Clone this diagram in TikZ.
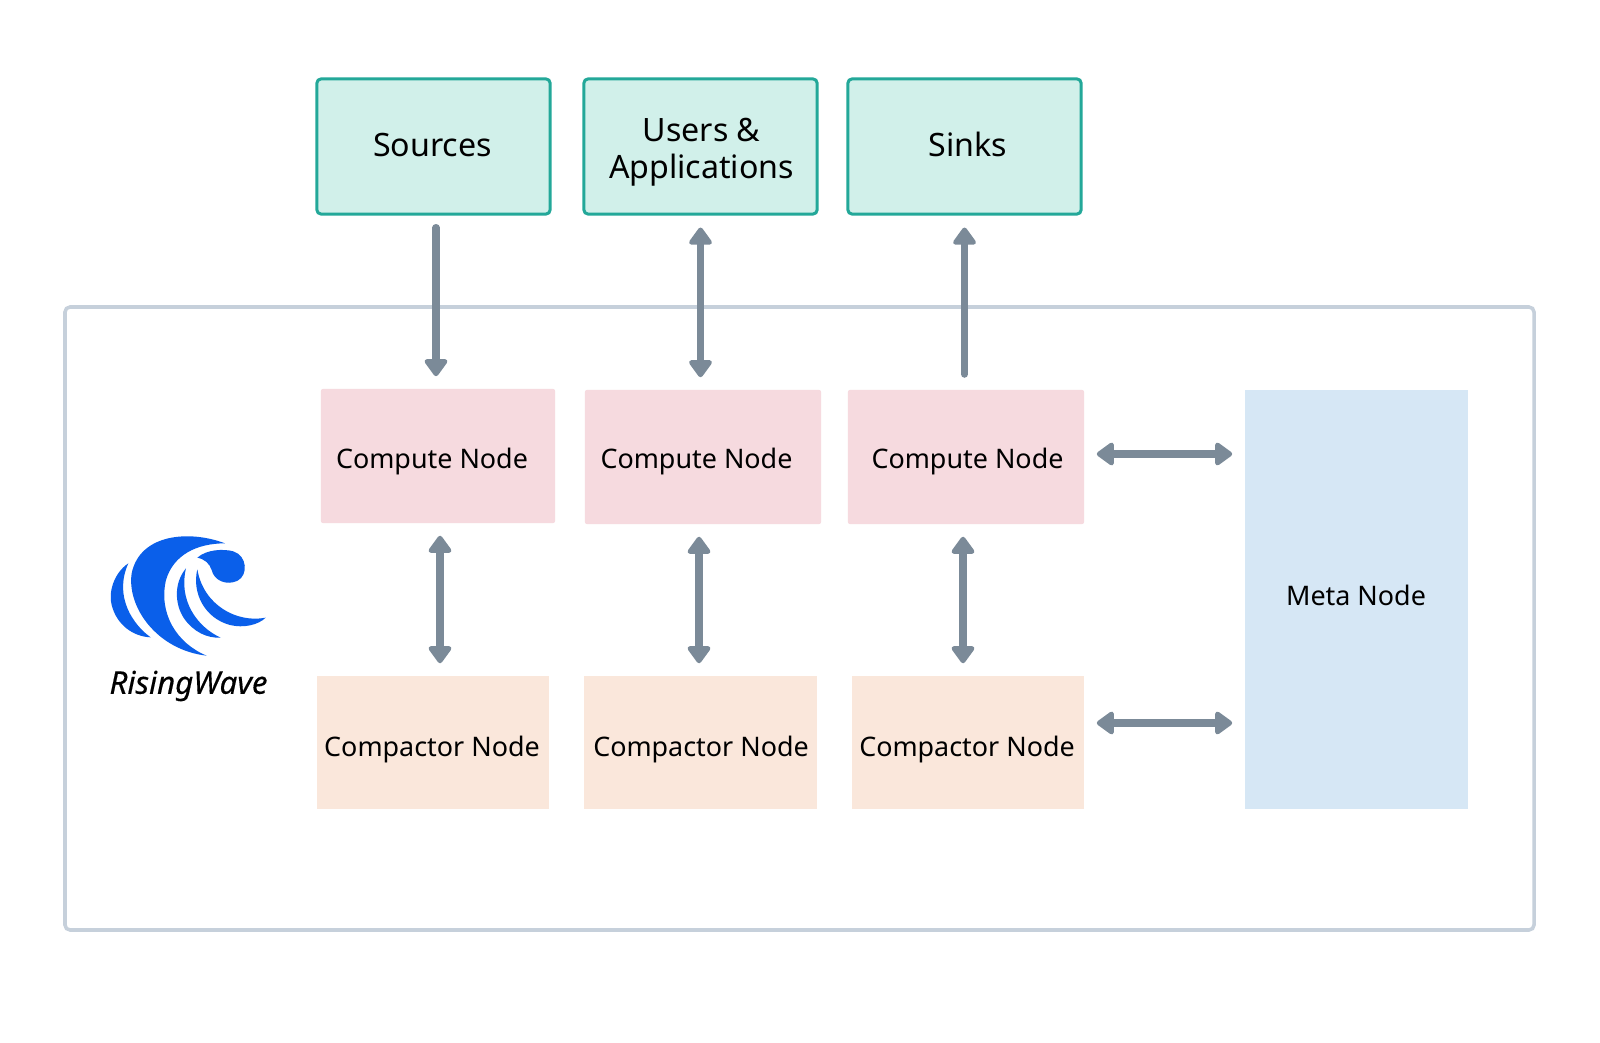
\documentclass[tikz,border=0pt]{standalone}
\usepackage{fontspec}
\setmainfont{Noto Sans}
\newfontfamily\logofont[FakeBold=.35]{Noto Sans}
\usetikzlibrary{arrows.meta}
\definecolor{arrowgray}{HTML}{7B8A98}
\definecolor{framegray}{HTML}{C6D0DB}
\definecolor{tealfill}{HTML}{D1F0EA}
\definecolor{tealline}{HTML}{23A899}
\definecolor{pinkfill}{HTML}{F6DADF}
\definecolor{peachfill}{HTML}{FAE7DB}
\definecolor{bluefill}{HTML}{D6E7F5}
\definecolor{logoblue}{HTML}{0A5FEA}
\tikzset{
    extbox/.style={draw=tealline, fill=tealfill, line width=.85pt, rounded corners=.04cm, minimum width=2.33cm, minimum height=1.35cm, inner sep=0pt},
    cnbox/.style={fill=pinkfill, rounded corners=.02cm, minimum height=1.34cm, inner sep=0pt},
    cpbox/.style={fill=peachfill, minimum width=2.32cm, minimum height=1.33cm, inner sep=0pt},
    bigtext/.style={font=\fontsize{9.15}{10.6}\selectfont, align=center, inner sep=0pt},
    smalltext/.style={font=\fontsize{7.65}{9.6}\selectfont, align=center, inner sep=0pt},
    link/.style={draw=arrowgray, line width=2pt, line cap=round, shorten <=.12cm, shorten >=.12cm},
}
\begin{document}
\begin{tikzpicture}[x=.01cm, y=-.01cm, >={Triangle[width=.26cm,length=.19cm,round]}]
\useasboundingbox[fill=white](0,0) rectangle (1600,1043);
\draw[framegray, line width=1pt, rounded corners=.05cm](65,307) rectangle (1534,930);
% top row
\node[extbox] (src) at (433.5,146.5) {};
\node[extbox] (app) at (700.5,146.5) {};
\node[extbox] (snk) at (964.5,146.5) {};
\node[bigtext] (srctxt) at (432.5,145) {Sources};
\node[bigtext] (apptxt) at (701.5,152) {Users \&\\Applications};
\node[bigtext] (snktxt) at (968,144) {Sinks};
% compute nodes
\node[cnbox, minimum width=2.34cm] (cn1) at (438,456) {};
\node[cnbox, minimum width=2.36cm] (cn2) at (703,457) {};
\node[cnbox, minimum width=2.36cm] (cn3) at (966,457) {};
\node[smalltext] (cn1txt) at (432,462) {Compute Node};
\node[smalltext] (cn2txt) at (696.5,462) {Compute Node};
\node[smalltext] (cn3txt) at (967.5,462) {Compute Node};
% compactor nodes
\node[cpbox] (cp1) at (433,742.5) {};
\node[cpbox] (cp2) at (700.5,742.5) {};
\node[cpbox] (cp3) at (968,742.5) {};
\node[smalltext] (cp1txt) at (432,750) {Compactor Node};
\node[smalltext] (cp2txt) at (701,750) {Compactor Node};
\node[smalltext] (cp3txt) at (967,750) {Compactor Node};
% meta node
\node[fill=bluefill, minimum width=2.23cm, minimum height=4.19cm, inner sep=0pt] (meta) at (1356.5,599.5) {};
\node[smalltext] (metatxt) at (1356,595) {Meta Node};
% arrows
\draw[link,->]([xshift=.025cm]src.south)--([xshift=.025cm]src.south|-cn1.north);
\draw[link,<->](app.south)--(app.south|-cn2.north);
\draw[link,<-,shorten >=.15cm](snk.south)--(snk.south|-cn3.north);
\draw[link,<->]([xshift=.02cm]cn1.south)--([xshift=.02cm]cn1.south|-cp1.north);
\draw[link,<->]([xshift=-.04cm]cn2.south)--([xshift=-.04cm]cn2.south|-cp2.north);
\draw[link,<->]([xshift=-.03cm]cn3.south)--([xshift=-.03cm]cn3.south|-cp3.north);
\draw[link,<->]([yshift=.03cm]cn3.east)--([yshift=.03cm]cn3.east-|meta.west);
\draw[link,<->]([yshift=.195cm]cp3.east)--([yshift=.195cm]cp3.east-|meta.west);
% logo
\begin{scope}[shift={(90,510)}, x=.01cm/3, y=-.01cm/3]
\fill[logoblue](405,100)..controls(300,60)and(150,70)..(125,190)..controls(110,290)and(200,420)..(350,437)..controls(260,400)and(205,310)..(228,210)..controls(250,135)and(320,100)..(405,100)--cycle;
\fill[logoblue](115,160)..controls(70,190)and(55,250)..(65,285)..controls(80,345)and(130,380)..(182,382)..controls(130,345)and(70,260)..(115,160)--cycle;
\fill[logoblue](288,175)..controls(250,220)and(255,285)..(282,325)..controls(310,365)and(350,385)..(392,383)..controls(320,350)and(265,270)..(288,175)--cycle;
\fill[logoblue](322,178)..controls(305,250)and(345,325)..(420,345)..controls(460,355)and(505,345)..(527,323)..controls(440,340)and(340,285)..(322,178)--cycle;
\fill[logoblue](322,143)..controls(350,118)and(400,116)..(430,124)..controls(472,138)and(475,195)..(443,212)..controls(410,228)and(372,212)..(365,180)..controls(358,160)and(345,148)..(322,143)--cycle;
\end{scope}
\node[font=\fontsize{8.9}{10}\selectfont\logofont\itshape, inner sep=0pt] (logotxt) at (188.5,686) {RisingWave};
\end{tikzpicture}
\end{document}
